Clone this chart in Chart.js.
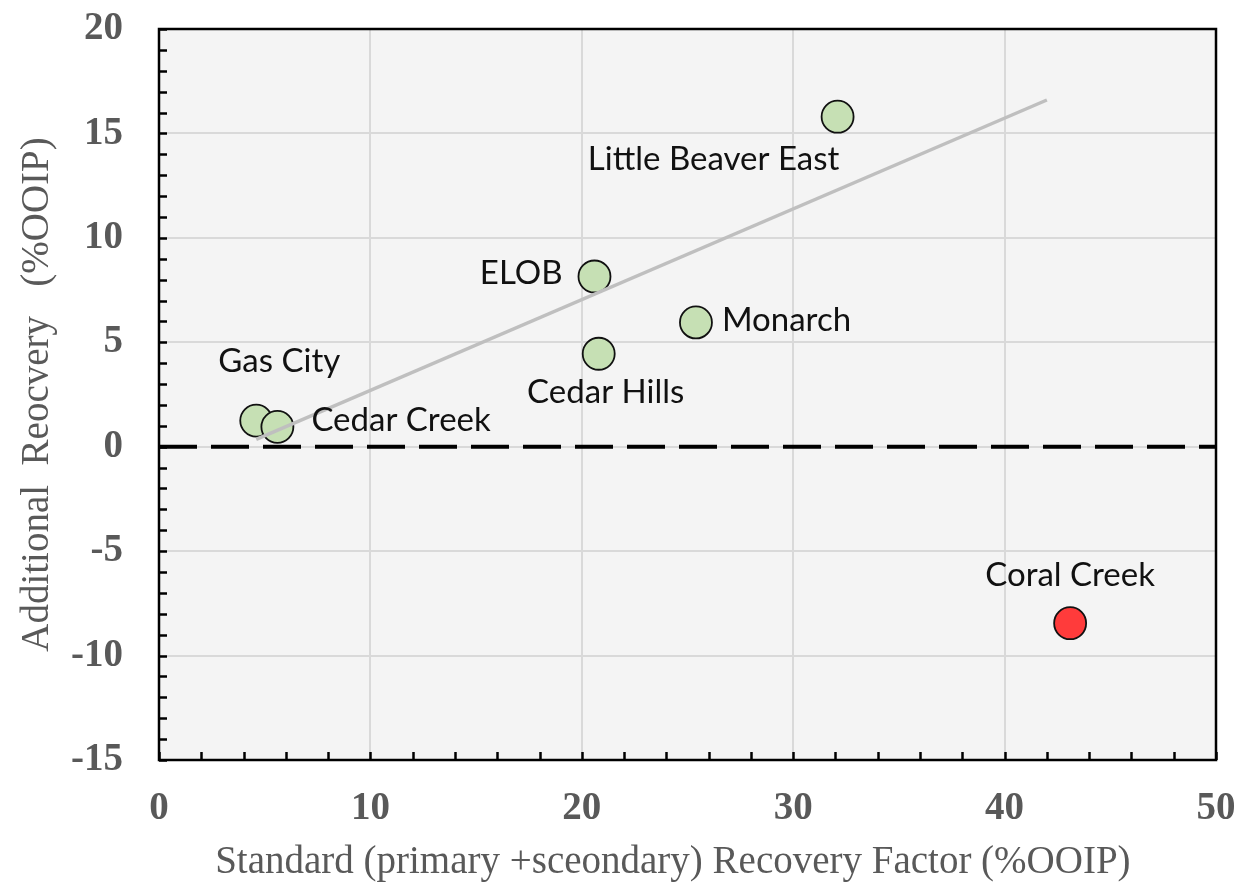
<!DOCTYPE html>
<html>
<head>
<meta charset="utf-8">
<script src="https://cdn.jsdelivr.net/npm/chart.js@4"></script>
<style>
  html, body { margin: 0; padding: 0; background: #ffffff; }
  #wrap { width: 1243px; height: 891px; position: relative; }
</style>
</head>
<body>
<div id="wrap"><canvas id="c" width="1243" height="891"></canvas></div>
<script>
// ---- data ----
const fieldNames = ["Gas City", "Cedar Creek", "ELOB", "Cedar Hills", "Monarch", "Little Beaver East", "Coral Creek"];
const standardRF = [4.6, 5.6, 20.6, 20.8, 25.4, 32.1, 43.1];
const additionalRecovery = [1.25, 0.95, 8.15, 4.45, 5.95, 15.8, -8.45];
const trendX = [4.6, 42.0];
const trendY = [0.35, 16.6];
const zeroX = [0, 50];
const zeroY = [0, 0];
const xTicks = [0, 10, 20, 30, 40, 50];
const yTicks = [-15, -10, -5, 0, 5, 10, 15, 20];

// ---- styles ----
const pointFill = ["#c6e0b4", "#c6e0b4", "#c6e0b4", "#c6e0b4", "#c6e0b4", "#c6e0b4", "#ff3b3b"];
// label placement relative to marker (px): [dx, dy, align]
const labelPlacement = [
  [23, -59, "center"], [34, -7, "left"], [-32, -3, "right"], [7, 39, "center"],
  [26, -2, "left"], [-124, 43, "center"], [0, -48, "center"]
];

const plotDecor = {
  id: "plotDecor",
  beforeDraw(chart) {
    const a = chart.chartArea, ctx = chart.ctx;
    ctx.save();
    ctx.fillStyle = "#f4f4f4";
    ctx.fillRect(a.left, a.top, a.right - a.left, a.bottom - a.top);
    ctx.restore();
  },
  afterDatasetsDraw(chart) {
    const a = chart.chartArea, ctx = chart.ctx;
    const xs = chart.scales.x, ys = chart.scales.y;
    ctx.save();
    // labels
    const meta = chart.getDatasetMeta(2);
    ctx.font = "33px Lato, 'Open Sans', sans-serif";
    ctx.fillStyle = "#111111";
    ctx.textBaseline = "middle";
    meta.data.forEach((pt, i) => {
      const p = labelPlacement[i];
      ctx.textAlign = p[2];
      ctx.fillText(fieldNames[i], pt.x + p[0], pt.y + p[1]);
    });
    // minor ticks
    ctx.strokeStyle = "#000";
    ctx.lineWidth = 2.5;
    ctx.beginPath();
    for (let v = -15; v <= 20; v += 1) {
      const y = Math.round(ys.getPixelForValue(v)) + 0.5;
      ctx.moveTo(a.left, y); ctx.lineTo(a.left + 8, y);
    }
    for (let v = 0; v <= 50; v += 2) {
      const x = Math.round(xs.getPixelForValue(v)) + 0.5;
      ctx.moveTo(x, a.bottom); ctx.lineTo(x, a.bottom - 8);
    }
    ctx.stroke();
    // frame
    ctx.lineWidth = 2.5;
    ctx.strokeRect(a.left, a.top, a.right - a.left, a.bottom - a.top);
    ctx.restore();
  }
};

const serifTick = { family: "'Liberation Serif', 'Times New Roman', serif", size: 39, weight: "bold" };
const serifTitle = { family: "'Liberation Serif', 'Times New Roman', serif", size: 39, weight: "normal" };

new Chart(document.getElementById("c"), {
  type: "scatter",
  data: {
    datasets: [
      {
        label: "zero",
        type: "line",
        data: zeroX.map((x, i) => ({ x, y: zeroY[i] })),
        borderColor: "#000000",
        borderWidth: 4,
        borderDash: [38, 14],
        pointRadius: 0,
        fill: false
      },
      {
        label: "trend",
        type: "line",
        data: trendX.map((x, i) => ({ x, y: trendY[i] })),
        borderColor: "#bfbfbf",
        borderWidth: 3.5,
        pointRadius: 0,
        fill: false
      },
      {
        label: "fields",
        data: standardRF.map((x, i) => ({ x, y: additionalRecovery[i] })),
        backgroundColor: pointFill,
        borderColor: "#111111",
        borderWidth: 1.8,
        pointRadius: 16,
        pointHoverRadius: 16
      }
    ]
  },
  options: {
    responsive: false,
    animation: false,
    events: [],
    layout: { padding: { top: 29, right: 27, left: 0, bottom: 0 } },
    plugins: { legend: { display: false }, tooltip: { enabled: false } },
    scales: {
      x: {
        type: "linear",
        min: 0, max: 50,
        afterBuildTicks(s) { s.ticks = xTicks.map(v => ({ value: v })); },
        afterFit(s) { s.height = 131; s.paddingLeft = 0; s.paddingRight = 0; },
        grid: { color: "#d9d9d9", lineWidth: 2, drawTicks: false },
        border: { display: false },
        ticks: { color: "#595959", font: serifTick, padding: 26, maxRotation: 0 },
        title: {
          display: true,
          text: "Standard (primary +sceondary) Recovery Factor (%OOIP)   ",
          color: "#595959",
          font: serifTitle,
          padding: { top: 0, bottom: 5 }
        }
      },
      y: {
        type: "linear",
        min: -15, max: 20,
        afterBuildTicks(s) { s.ticks = yTicks.map(v => ({ value: v })); },
        afterFit(s) { s.width = 159; s.paddingTop = 0; s.paddingBottom = 0; },
        grid: { color: "#d9d9d9", lineWidth: 2, drawTicks: false },
        border: { display: false },
        ticks: { color: "#595959", font: serifTick, padding: 36 },
        title: {
          display: true,
          text: "Additional  Reocvery   (%OOIP)",
          color: "#595959",
          font: serifTitle,
          padding: { top: 14, bottom: 0 }
        }
      }
    }
  },
  plugins: [plotDecor]
});
</script>
</body>
</html>
